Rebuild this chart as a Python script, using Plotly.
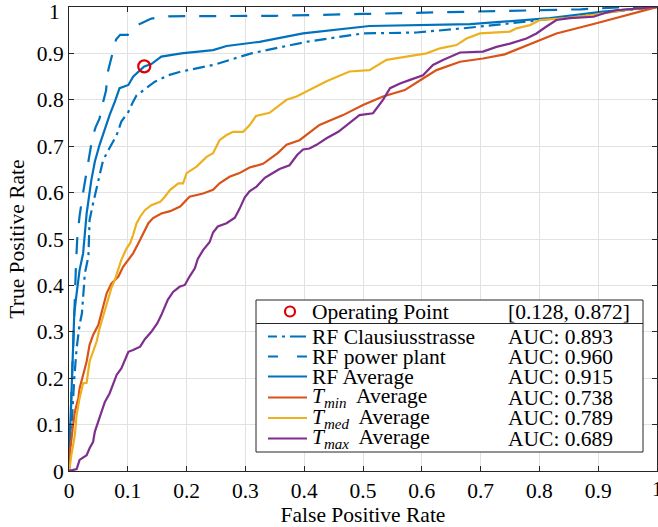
import plotly.graph_objects as go

# ---------------- data ----------------
claus_x = [0, 0.002, 0.005, 0.009, 0.013, 0.018, 0.022, 0.024, 0.027, 0.033, 0.035, 0.041, 0.050, 0.058,
           0.072, 0.081, 0.089, 0.101, 0.109, 0.115, 0.123, 0.135, 0.146, 0.169, 0.191, 0.245, 0.310,
           0.404, 0.500, 0.591, 0.670, 0.789, 0.875, 1.0]
claus_y = [0, 0.05, 0.12, 0.20, 0.265, 0.315, 0.34, 0.383, 0.426, 0.462, 0.541, 0.577, 0.627, 0.670,
           0.703, 0.724, 0.753, 0.774, 0.796, 0.810, 0.817, 0.828, 0.839, 0.853, 0.861, 0.875, 0.900,
           0.925, 0.943, 0.945, 0.954, 0.970, 0.983, 1.0]

plant_x = [0, 0.002, 0.005, 0.008, 0.010, 0.012, 0.014, 0.018, 0.024, 0.028, 0.033, 0.037, 0.040, 0.045,
           0.052, 0.057, 0.063, 0.066, 0.072, 0.080, 0.087, 0.100, 0.115, 0.140, 0.170, 0.350, 0.500,
           0.700, 0.870, 0.950, 1.0]
plant_y = [0, 0.10, 0.20, 0.30, 0.40, 0.45, 0.50, 0.55, 0.60, 0.63, 0.66, 0.69, 0.72, 0.74,
           0.76, 0.79, 0.82, 0.86, 0.89, 0.93, 0.94, 0.94, 0.96, 0.975, 0.98, 0.981, 0.985,
           0.99, 0.995, 1.0, 1.0]

rfavg_x = [0, 0.001, 0.004, 0.007, 0.009, 0.013, 0.018, 0.024, 0.030, 0.038, 0.044, 0.052, 0.061, 0.069,
           0.078, 0.086, 0.101, 0.109, 0.121, 0.128, 0.140, 0.157, 0.191, 0.245, 0.268, 0.324, 0.398,
           0.511, 0.682, 0.818, 0.908, 1.0]
rfavg_y = [0, 0.06, 0.16, 0.26, 0.34, 0.383, 0.433, 0.469, 0.555, 0.627, 0.667, 0.703, 0.739, 0.767,
           0.796, 0.825, 0.832, 0.850, 0.864, 0.872, 0.877, 0.893, 0.900, 0.907, 0.916, 0.925, 0.943,
           0.959, 0.963, 0.976, 0.990, 1.0]

tmin_x = [0, 0.001, 0.007, 0.010, 0.016, 0.018, 0.024, 0.030, 0.035, 0.041, 0.050, 0.055, 0.064, 0.072,
          0.084, 0.092, 0.101, 0.109, 0.118, 0.126, 0.135, 0.143, 0.157, 0.172, 0.189, 0.205, 0.228,
          0.245, 0.256, 0.273, 0.290, 0.307, 0.330, 0.355, 0.370, 0.392, 0.426, 0.466, 0.500, 0.534,
          0.571, 0.602, 0.625, 0.665, 0.704, 0.741, 0.801, 0.829, 0.897, 1.0]
tmin_y = [0, 0.034, 0.10, 0.128, 0.157, 0.178, 0.207, 0.236, 0.272, 0.293, 0.315, 0.338, 0.383, 0.404,
          0.419, 0.440, 0.455, 0.469, 0.491, 0.512, 0.534, 0.545, 0.555, 0.560, 0.570, 0.591, 0.598,
          0.606, 0.620, 0.634, 0.642, 0.654, 0.662, 0.685, 0.703, 0.713, 0.746, 0.767, 0.789, 0.807,
          0.821, 0.846, 0.864, 0.882, 0.889, 0.898, 0.929, 0.943, 0.965, 1.0]

tmed_x = [0, 0.001, 0.004, 0.010, 0.013, 0.018, 0.024, 0.030, 0.035, 0.041, 0.047, 0.052, 0.059, 0.067,
          0.072, 0.078, 0.084, 0.089, 0.098, 0.104, 0.109, 0.115, 0.121, 0.129, 0.140, 0.155, 0.163,
          0.172, 0.186, 0.194, 0.200, 0.217, 0.234, 0.245, 0.256, 0.268, 0.279, 0.296, 0.307, 0.318,
          0.341, 0.360, 0.370, 0.387, 0.404, 0.421, 0.438, 0.449, 0.477, 0.511, 0.540, 0.574, 0.608,
          0.631, 0.659, 0.676, 0.699, 0.750, 0.761, 0.784, 0.801, 0.845, 0.892, 0.943, 1.0]
tmed_y = [0, 0.006, 0.034, 0.078, 0.121, 0.157, 0.189, 0.190, 0.236, 0.257, 0.279, 0.307, 0.338, 0.376,
          0.394, 0.412, 0.433, 0.455, 0.480, 0.491, 0.509, 0.534, 0.548, 0.562, 0.573, 0.580, 0.591,
          0.606, 0.620, 0.620, 0.642, 0.656, 0.677, 0.685, 0.713, 0.724, 0.731, 0.731, 0.745, 0.765,
          0.772, 0.790, 0.800, 0.807, 0.818, 0.830, 0.840, 0.846, 0.861, 0.864, 0.886, 0.893, 0.900,
          0.911, 0.918, 0.932, 0.943, 0.947, 0.954, 0.961, 0.972, 0.976, 0.983, 0.993, 1.0]

tmax_x = [0, 0.013, 0.018, 0.024, 0.030, 0.035, 0.041, 0.044, 0.050, 0.055, 0.061, 0.069, 0.075, 0.081,
          0.089, 0.095, 0.101, 0.109, 0.121, 0.129, 0.140, 0.150, 0.157, 0.168, 0.177, 0.188, 0.197,
          0.205, 0.214, 0.219, 0.228, 0.239, 0.245, 0.253, 0.268, 0.282, 0.290, 0.299, 0.307, 0.319,
          0.333, 0.341, 0.358, 0.375, 0.388, 0.398, 0.409, 0.421, 0.438, 0.458, 0.477, 0.494, 0.517,
          0.534, 0.546, 0.563, 0.580, 0.602, 0.619, 0.636, 0.665, 0.704, 0.727, 0.750, 0.778, 0.795,
          0.812, 0.829, 0.852, 0.892, 0.914, 0.931, 1.0]
tmax_y = [0, 0.004, 0.024, 0.029, 0.034, 0.049, 0.063, 0.085, 0.106, 0.128, 0.149, 0.167, 0.185, 0.207,
          0.221, 0.239, 0.257, 0.261, 0.268, 0.284, 0.300, 0.318, 0.336, 0.369, 0.386, 0.397, 0.401,
          0.419, 0.437, 0.457, 0.476, 0.493, 0.514, 0.527, 0.534, 0.546, 0.565, 0.590, 0.603, 0.613,
          0.632, 0.638, 0.651, 0.659, 0.681, 0.693, 0.695, 0.703, 0.717, 0.731, 0.749, 0.767, 0.771,
          0.800, 0.825, 0.835, 0.843, 0.853, 0.875, 0.886, 0.902, 0.904, 0.914, 0.921, 0.932, 0.943,
          0.958, 0.972, 0.976, 0.979, 0.988, 0.993, 1.0]

op_point = [0.128, 0.872]

legend_names = ["RF Clausiusstrasse", "RF power plant", "RF Average",
                "<i>T</i><sub><i>min</i></sub>  Average", "<i>T</i><sub><i>med</i></sub>  Average",
                "<i>T</i><sub><i>max</i></sub>  Average"]
auc_values = ["0.893", "0.960", "0.915", "0.738", "0.789", "0.689"]

x_ticks = [0, 0.1, 0.2, 0.3, 0.4, 0.5, 0.6, 0.7, 0.8, 0.9, 1]
x_tick_text = ["0", "0.1", "0.2", "0.3", "0.4", "0.5", "0.6", "0.7", "0.8", "0.9", "1"]

# ---------------- styles ----------------
BLUE = "#0072BD"
ORANGE = "#D95319"
YELLOW = "#EDB120"
PURPLE = "#7E2F8E"
RED = "#DD0000"
FONT = "Liberation Serif"
FS = 21.5
W, H = 658, 527
ML, MR, MT, MB = 69, 1, 7, 56

series = [
    (claus_x, claus_y, BLUE, "12px,5px,3px,5px"),
    (plant_x, plant_y, BLUE, "17px,14px"),
    (rfavg_x, rfavg_y, BLUE, "solid"),
    (tmin_x, tmin_y, ORANGE, "solid"),
    (tmed_x, tmed_y, YELLOW, "solid"),
    (tmax_x, tmax_y, PURPLE, "solid"),
]

fig = go.Figure()
for (xs, ys, col, dash), name in zip(series, legend_names):
    fig.add_trace(go.Scatter(x=xs, y=ys, mode="lines", name=name,
                             line=dict(color=col, width=2.2, dash=dash), showlegend=False))

fig.add_trace(go.Scatter(x=[op_point[0]], y=[op_point[1]], mode="markers", name="Operating Point",
                         marker=dict(symbol="circle-open", size=12, color=RED, line=dict(width=2.2, color=RED)),
                         showlegend=False))

# ---------------- custom legend ----------------
PW = W - ML - MR
PH = H - MT - MB


def px(xp):
    return (xp - ML) / PW


def py(yp):
    return (H - MB - yp) / PH


shapes = []
annos = []
shapes.append(dict(type="rect", xref="paper", yref="paper", x0=px(256), x1=px(643), y0=py(452), y1=py(300),
                   line=dict(color="#262626", width=1), fillcolor="white", layer="above"))
shapes.append(dict(type="line", xref="paper", yref="paper", x0=px(256), x1=px(643), y0=py(323.5), y1=py(323.5),
                   line=dict(color="#262626", width=1), layer="above"))
shapes.append(dict(type="circle", xref="paper", yref="paper", xsizemode="pixel", ysizemode="pixel",
                   xanchor=px(290), yanchor=py(311.5), x0=-5, x1=5, y0=-5, y1=5,
                   line=dict(color=RED, width=2.2), layer="above"))
annos.append(dict(xref="paper", yref="paper", x=px(310), y=py(311.5), text="Operating Point",
                  xanchor="left", yanchor="middle", showarrow=False))
annos.append(dict(xref="paper", yref="paper", x=px(506), y=py(311.5),
                  text="[%.3f, %.3f]" % (op_point[0], op_point[1]),
                  xanchor="left", yanchor="middle", showarrow=False))

row_y = [336.5, 356.5, 376.5, 397.5, 418, 438.5]
sample_dash = ["9px,5px,3px,5px,16px", "10px,19px,10px", "solid", "solid", "solid", "solid"]
for i, ((xs, ys, col, dash), name, auc) in enumerate(zip(series, legend_names, auc_values)):
    yy = row_y[i]
    shapes.append(dict(type="line", xref="paper", yref="paper", x0=px(268), x1=px(307), y0=py(yy), y1=py(yy),
                       line=dict(color=col, width=2.2, dash=sample_dash[i]), layer="above"))
    annos.append(dict(xref="paper", yref="paper", x=px(310), y=py(yy), text=name,
                      xanchor="left", yanchor="middle", showarrow=False))
    annos.append(dict(xref="paper", yref="paper", x=px(506), y=py(yy), text="AUC: " + auc,
                      xanchor="left", yanchor="middle", showarrow=False))

# edge tick labels "1" that plotly would hide because they touch the page edge
annos.append(dict(xref="x", yref="paper", x=x_ticks[-1], y=py(489), text=x_tick_text[-1],
                  xanchor="center", yanchor="middle", showarrow=False))
annos.append(dict(xref="paper", yref="y", x=px(62), y=x_ticks[-1], yshift=-5, text=x_tick_text[-1],
                  xanchor="right", yanchor="middle", showarrow=False))

axis_common = dict(range=[0, 1], showgrid=True, gridcolor="#E2E2E2", gridwidth=1,
                   showline=True, linecolor="#262626", linewidth=1, mirror="ticks",
                   ticks="inside", ticklen=5, tickcolor="#262626", zeroline=False,
                   automargin=False,
                   tickfont=dict(family=FONT, size=FS, color="black"),
                   tickvals=x_ticks, ticktext=x_tick_text)

fig.update_layout(
    width=W, height=H,
    margin=dict(l=ML, r=MR, t=MT, b=MB),
    paper_bgcolor="white", plot_bgcolor="white",
    font=dict(family=FONT, size=FS, color="black"),
    xaxis=dict(**axis_common, title=dict(text="False Positive Rate", font=dict(family=FONT, size=FS), standoff=2)),
    yaxis=dict(**axis_common, title=dict(text="True Positive Rate", font=dict(family=FONT, size=FS), standoff=6)),
    shapes=shapes,
    annotations=annos,
    showlegend=False,
)

fig.write_html("out.html", config={"displayModeBar": False},
               post_script="document.body.style.margin='0';document.body.style.padding='0';"
                           "document.documentElement.style.overflow='hidden';")
